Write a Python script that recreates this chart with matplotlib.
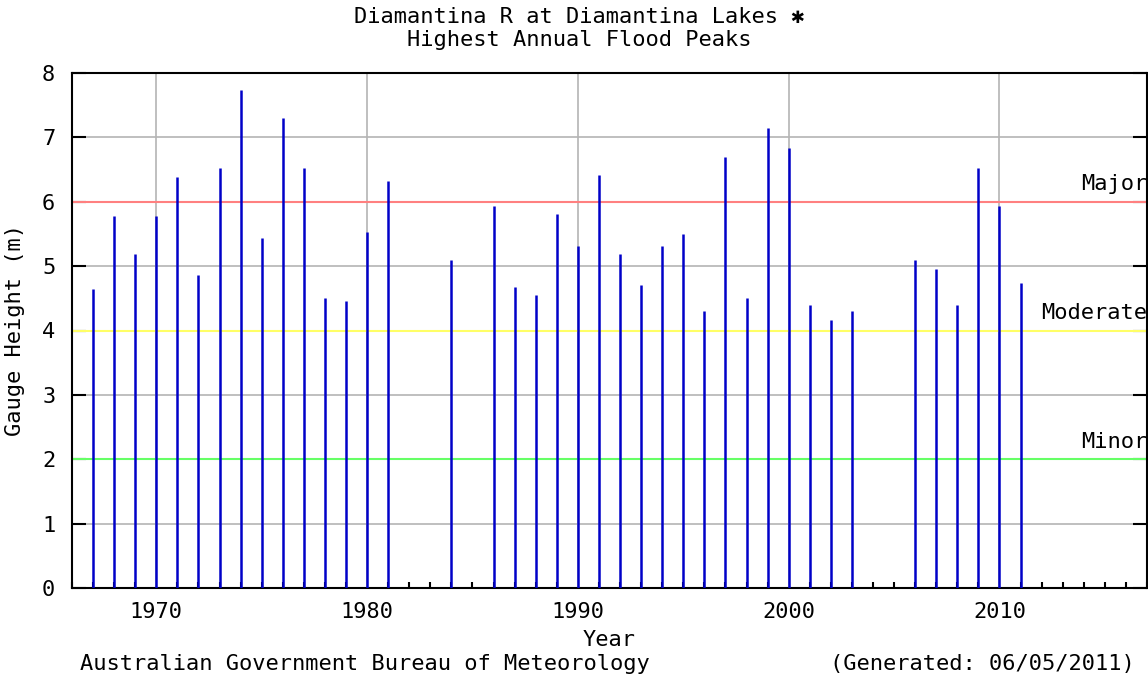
import matplotlib
matplotlib.use("Agg")
import matplotlib.pyplot as plt
from matplotlib.ticker import MultipleLocator

# flood peaks (m)
years = [1967, 1968, 1969, 1970, 1971, 1972, 1973, 1974, 1975, 1976, 1977,
         1978, 1979, 1980, 1981, 1984, 1986, 1987, 1988, 1989, 1990, 1991,
         1992, 1993, 1994, 1995, 1996, 1997, 1998, 1999, 2000, 2001, 2002,
         2003, 2006, 2007, 2008, 2009, 2010, 2011]
peaks = [4.65, 5.78, 5.19, 5.78, 6.38, 4.86, 6.53, 7.73, 5.44, 7.30, 6.53,
         4.50, 4.46, 5.53, 6.33, 5.10, 5.93, 4.68, 4.55, 5.81, 5.32, 6.42,
         5.19, 4.71, 5.32, 5.50, 4.31, 6.69, 4.50, 7.15, 6.84, 4.40, 4.16,
         4.31, 5.10, 4.95, 4.40, 6.53, 5.93, 4.74]

levels = ["Minor", "Moderate", "Major"]
level_heights = [2, 4, 6]
level_colors = ["#66ff66", "#ffff66", "#ff8080"]

font = ["DejaVu Sans Mono", "DejaVu Sans"]
fs = 15.8
plt.rcParams["font.family"] = font

fig = plt.figure(figsize=(11.48, 6.8), dpi=100)
ax = fig.add_axes([72 / 1148, 92 / 680, 1075 / 1148, 515 / 680])

# grid
ax.set_xticks([1970, 1980, 1990, 2000, 2010])
ax.set_yticks(range(0, 9))
ax.grid(True, color="#b4b4b4", lw=1.2)
ax.set_axisbelow(True)

# threshold lines
for name, h, c in zip(levels, level_heights, level_colors):
    ax.axhline(h, color=c, lw=1.5, zorder=1.5)
    ax.text(2017, h + 0.12, name, ha="right", va="bottom", fontsize=fs,
            family=font)

# peaks
ax.vlines(years, 0, peaks, color="#0000c8", lw=1.8, zorder=3)

ax.set_xlim(1966, 2017)
ax.set_ylim(0, 8)
ax.xaxis.set_minor_locator(MultipleLocator(1))
ax.tick_params(axis="x", which="major", direction="in", length=0, pad=10,
               labelsize=fs)
ax.tick_params(axis="x", which="minor", direction="in", length=4, width=1.5)
ax.tick_params(axis="y", which="major", direction="in", length=10, width=1.5,
               right=True, pad=12, labelsize=fs)
for s in ax.spines.values():
    s.set_linewidth(1.5)

ax.set_ylabel("Gauge Height (m)", fontsize=fs, labelpad=12)
ax.set_xlabel("Year", fontsize=fs, labelpad=6)

fig.text(0.505, 1 - 17 / 680, "Diamantina R at Diamantina Lakes \u2731",
         ha="center", va="center", fontsize=fs, family=font)
fig.text(0.505, 1 - 40 / 680, "Highest Annual Flood Peaks",
         ha="center", va="center", fontsize=fs, family=font)
fig.text(80 / 1148, 1 - 664 / 680, "Australian Government Bureau of Meteorology",
         ha="left", va="center", fontsize=fs, family=font)
fig.text(1135 / 1148, 1 - 664 / 680, "(Generated: 06/05/2011)",
         ha="right", va="center", fontsize=fs, family=font)

fig.savefig("out.png", dpi=100)
